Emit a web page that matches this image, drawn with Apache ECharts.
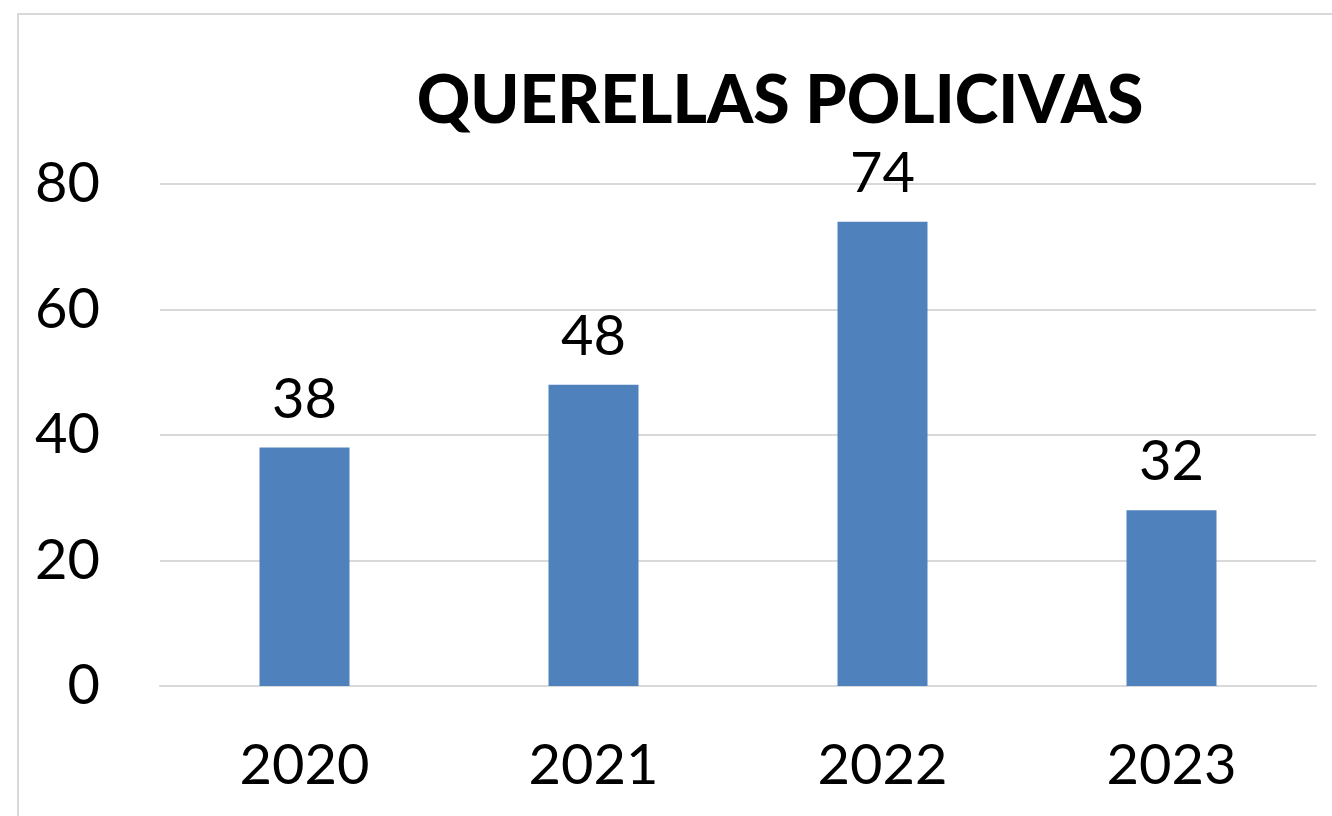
<!DOCTYPE html>
<html lang="es">
<head>
    <meta charset="UTF-8">
    <title>Querellas policivas</title>
    <script type="text/javascript" src="https://cdn.jsdelivr.net/npm/echarts@6/dist/echarts.min.js"></script>
    <style>
        html, body { margin: 0; padding: 0; background: #fff; }
    </style>
</head>
<body>
<div id="main" style="width: 1332px;height: 816px"></div>

<script>
    var years = ['2020', '2021', '2022', '2023'];
    // bar heights as drawn; the 2023 bar is drawn lower than its label says
    var barValues = [38, 48, 74, 28];
    var labelTexts = ['38', '48', '74', '32'];
    var yTicks = [0, 20, 40, 60, 80];

    var chartDom = document.getElementById('main');
    var myChart = echarts.init(chartDom);
    var font = 'Lato, "Open Sans", sans-serif';

    var option = {
        animation: false,
        graphic: [
            {
                type: 'rect',
                shape: { x: 18, y: 14, width: 1400, height: 900 },
                style: { fill: 'none', stroke: '#d9d9d9', lineWidth: 2 },
                silent: true
            },
            {
                type: 'text',
                x: 780,
                y: 102,
                style: {
                    text: 'QUERELLAS POLICIVAS',
                    fontFamily: font,
                    fontWeight: 900,
                    fontSize: 66,
                    fill: '#000',
                    textAlign: 'center',
                    textVerticalAlign: 'middle'
                }
            }
        ],
        grid: { left: 160, right: 16, top: 184, bottom: 130 },
        xAxis: {
            type: 'category',
            data: years,
            axisLine: { show: true, lineStyle: { color: '#d9d9d9', width: 2 } },
            axisTick: { show: false },
            axisLabel: { color: '#000', fontSize: 56, fontFamily: font, margin: 52 }
        },
        yAxis: {
            type: 'value',
            min: yTicks[0],
            max: yTicks[yTicks.length - 1],
            interval: 20,
            axisLine: { show: false },
            axisTick: { show: false },
            splitLine: { lineStyle: { color: '#d9d9d9', width: 2 } },
            axisLabel: { color: '#000', fontSize: 56, fontFamily: font, margin: 60 }
        },
        series: [
            {
                type: 'bar',
                data: barValues,
                barWidth: 90,
                itemStyle: { color: '#4f81bd' },
                label: {
                    show: true,
                    position: 'top',
                    distance: 20,
                    color: '#000',
                    fontSize: 56,
                    fontFamily: font,
                    formatter: function (p) { return labelTexts[p.dataIndex]; }
                }
            }
        ]
    };

    myChart.setOption(option);
</script>
</body>
</html>
